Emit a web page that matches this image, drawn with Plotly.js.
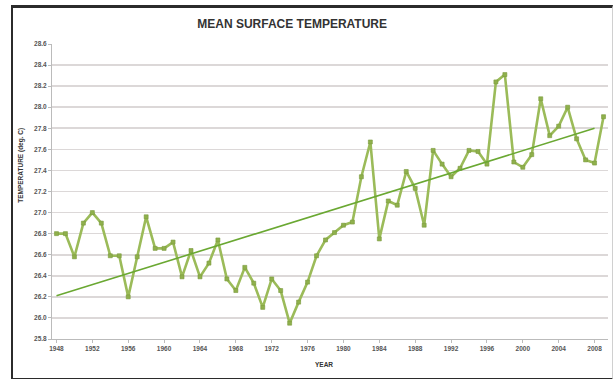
<!DOCTYPE html>
<html>
<head>
<meta charset="utf-8">
<script src="https://cdn.plot.ly/plotly-3.0.1.min.js"></script>
<style>
  html, body { margin: 0; padding: 0; background: #ffffff; }
  #wrap { position: relative; width: 615px; height: 379px; overflow: hidden; }
  #chart { position: absolute; left: 0; top: 0; width: 615px; height: 379px; }
  #frame {
    position: absolute; left: 11px; top: 5px; width: 599px; height: 370px;
    border-left: 2px solid #2b2b2b; border-top: 3px solid #2b2b2b;
    border-bottom: 2px solid #2b2b2b; border-right: 1px solid #d0d0d0;
    pointer-events: none;
  }
</style>
</head>
<body>
<div id="wrap">
  <div id="chart"></div>
  <div id="frame"></div>
</div>
<script>
// Annual mean surface temperature (deg. C), 1948-2009
const years = [];
for (let y = 1948; y <= 2009; y++) years.push(y);

const meanTemp = [
  26.80, 26.80, 26.58, 26.90, 27.00, 26.90, 26.59, 26.59, 26.20, 26.58,
  26.96, 26.66, 26.66, 26.72, 26.39, 26.64, 26.39, 26.52, 26.74, 26.37,
  26.26, 26.48, 26.33, 26.10, 26.37, 26.26, 25.95, 26.15, 26.34, 26.59,
  26.74, 26.81, 26.88, 26.91, 27.34, 27.67, 26.75, 27.11, 27.07, 27.39,
  27.23, 26.88, 27.59, 27.46, 27.34, 27.42, 27.59, 27.58, 27.46, 28.24,
  28.31, 27.48, 27.43, 27.55, 28.08, 27.73, 27.82, 28.00, 27.70, 27.50,
  27.47, 27.91
];

// Linear trend line end points
const trendYears = [1948, 2008];
const trendValues = [26.21, 27.80];

const yTicks = [25.8, 26.0, 26.2, 26.4, 26.6, 26.8, 27.0, 27.2, 27.4, 27.6, 27.8, 28.0, 28.2, 28.4, 28.6];
const xTicks = [1948, 1952, 1956, 1960, 1964, 1968, 1972, 1976, 1980, 1984, 1988, 1992, 1996, 2000, 2004, 2008];

const tickFont = { family: 'Arial, Liberation Sans, sans-serif', size: 6.5, color: '#555555', weight: 'bold' };

const traces = [
  {
    x: years, y: meanTemp, type: 'scatter', mode: 'lines+markers',
    line: { color: '#9bbb59', width: 2.6 },
    marker: { symbol: 'square', size: 4, color: '#8fb04c', line: { color: '#7a9a3c', width: 0.6 } },
    hoverinfo: 'x+y', showlegend: false
  },
  {
    x: trendYears, y: trendValues, type: 'scatter', mode: 'lines',
    line: { color: '#6aa832', width: 1.6 },
    hoverinfo: 'skip', showlegend: false
  }
];

const layout = {
  width: 615, height: 379,
  margin: { l: 52, r: 7, t: 44, b: 40 },
  paper_bgcolor: '#ffffff', plot_bgcolor: '#ffffff',
  showlegend: false,
  title: {
    text: 'MEAN SURFACE TEMPERATURE',
    font: { family: 'Arial, Liberation Sans, sans-serif', size: 12, color: '#333333', weight: 'bold' },
    x: 0.475, xanchor: 'center', y: 0.937, yanchor: 'middle'
  },
  xaxis: {
    range: [1947.5, 2009.5],
    tickvals: xTicks, ticktext: xTicks.map(String),
    tickfont: tickFont,
    ticks: 'outside', ticklen: 3, tickcolor: '#bbbbbb',
    showgrid: false, zeroline: false,
    showline: true, linecolor: '#bbbbbb', linewidth: 1,
    fixedrange: true
  },
  yaxis: {
    range: [25.8, 28.6],
    tickvals: yTicks, ticktext: yTicks.map(v => v.toFixed(1)),
    tickfont: tickFont,
    ticks: 'outside', ticklen: 3, tickcolor: '#bbbbbb',
    showgrid: true, gridcolor: '#dcd8d8', gridwidth: 1.6,
    zeroline: false,
    showline: true, linecolor: '#bbbbbb', linewidth: 1,
    fixedrange: true
  },
  annotations: [
    {
      text: 'TEMPERATURE (deg. C)', textangle: -90,
      xref: 'paper', yref: 'paper', x: -0.056, y: 0.59,
      xanchor: 'center', yanchor: 'middle', showarrow: false,
      font: { family: 'Arial, Liberation Sans, sans-serif', size: 6.5, color: '#333333', weight: 'bold' }
    },
    {
      text: 'YEAR',
      xref: 'paper', yref: 'paper', x: 0.49, y: -0.088,
      xanchor: 'center', yanchor: 'middle', showarrow: false,
      font: { family: 'Arial, Liberation Sans, sans-serif', size: 6.5, color: '#333333', weight: 'bold' }
    }
  ]
};

Plotly.newPlot('chart', traces, layout, { displayModeBar: false, staticPlot: true });
</script>
</body>
</html>
